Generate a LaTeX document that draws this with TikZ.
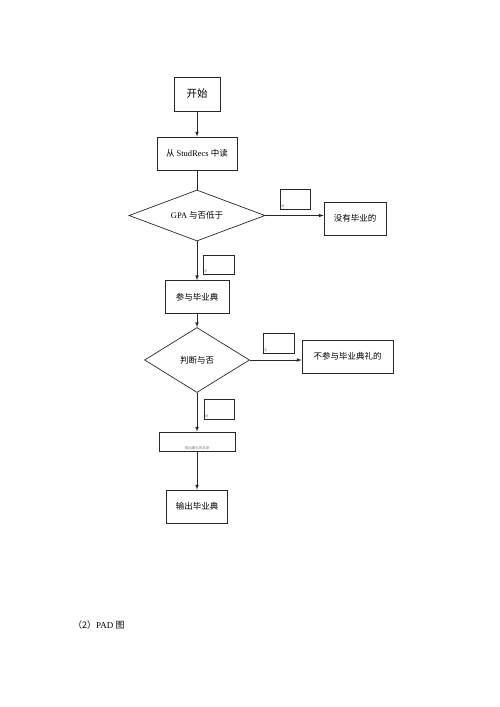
\documentclass[tikz,border=0pt]{standalone}
\usepackage{fontspec}
\setmainfont{Liberation Serif}
\newfontfamily\cjk{Noto Sans CJK SC}
\usetikzlibrary{shapes.geometric, arrows, positioning}
\definecolor{flowline}{RGB}{40, 40, 40}
\definecolor{tinygray}{RGB}{120, 120, 120}

\begin{document}
\begin{tikzpicture}[x=1pt, y=-1pt,
    procbox/.style={draw=flowline, line width=0.7pt, rectangle, inner sep=0pt,
          minimum height=33pt, font=\cjk\fontsize{8.5}{9}\selectfont},
    decbox/.style={draw=flowline, line width=0.7pt, diamond, inner sep=0pt,
          font=\cjk\fontsize{8.5}{9}\selectfont},
    tagbox/.style={draw=flowline, line width=0.5pt, rectangle, inner sep=0pt,
          minimum width=30pt, minimum height=20pt},
    flow/.style={draw=flowline, line width=0.7pt},
    flowarr/.style={flow, -latex}]
    \fill[white] (0,0) rectangle (500,707);
    \useasboundingbox (0,0) rectangle (500,707);

    % main column
    \node[procbox, minimum width=46pt, minimum height=34pt, font=\cjk\fontsize{10.5}{11}\selectfont] (start) at (197,94) {开始};
    \node[procbox, minimum width=80pt] (readrec) at (197,153.5) {从 \rmfamily StudRecs \cjk 中读};
    \node[decbox, minimum width=136pt, minimum height=51pt, aspect=2.7] (gpatest) at (197,215.5) {{\rmfamily GPA} 与否低于};
    \node[procbox, minimum width=62pt] (nograd) at (355,218.5) {没有毕业的};
    \node[procbox, minimum width=64pt] (attend) at (197,297) {参与毕业典};
    \node[decbox, minimum width=105pt, minimum height=65pt, aspect=1.6] (judge) at (197,360) {判断与否};
    \node[procbox, minimum width=91pt] (absent) at (347.5,356.5) {不参与毕业典礼的};
    \node[draw=flowline, line width=0.6pt, minimum width=76pt, minimum height=19pt, inner sep=1pt] (namelist) at (197,441.5) {};
    \node[font=\cjk\fontsize{3.5}{4}\selectfont, text=tinygray, anchor=south, inner sep=1pt] (namelisttxt) at (namelist.south) {排出典礼的名单};
    \node[procbox, minimum width=61pt] (output) at (197,506.5) {输出毕业典};

    % small tag boxes
    \node[tagbox, label={[anchor=south west, inner sep=1.5pt, font=\cjk\fontsize{3}{3}\selectfont, text=tinygray]south west:是}] (tagyes) at (295,199) {};
    \node[tagbox, minimum width=31pt, minimum height=19pt, label={[anchor=south west, inner sep=1.5pt, font=\cjk\fontsize{3}{3}\selectfont, text=tinygray]south west:否}] (tagno) at (218.5,264.5) {};
    \node[tagbox, minimum width=31pt, label={[anchor=south west, inner sep=1.5pt, font=\cjk\fontsize{3}{3}\selectfont, text=tinygray]south west:否}] (tagno2) at (278.5,343) {};
    \node[tagbox, label={[anchor=south west, inner sep=1.5pt, font=\cjk\fontsize{3}{3}\selectfont, text=tinygray]south west:是}] (tagyes2) at (219,409) {};

    % connectors
    \draw[flowarr] (start) -- (readrec);
    \draw[flow] (readrec) -- (gpatest);
    \draw[flowarr] (gpatest.east) -- (nograd.west |- gpatest.east);
    \draw[flowarr] (gpatest) -- (attend);
    \draw[flowarr] (attend) -- (judge);
    \draw[flowarr] (judge.east) -- (absent.west |- judge.east);
    \draw[flowarr] (judge) -- (namelist);
    \draw[flowarr] (namelist) -- (output);

    \node[anchor=west, inner sep=0pt, font=\cjk\fontsize{9}{10}\selectfont] (padtitle) at (73,625) {（2）\rmfamily PAD \cjk 图};
\end{tikzpicture}
\end{document}
